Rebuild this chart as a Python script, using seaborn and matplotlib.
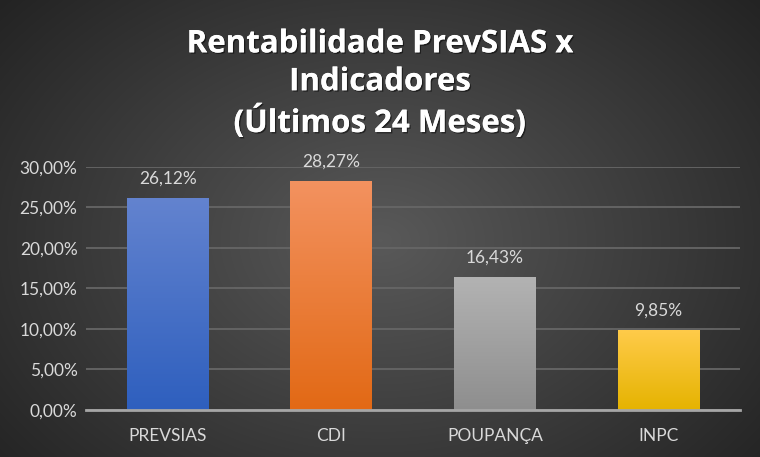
import numpy as np
import pandas as pd
import matplotlib
matplotlib.use("Agg")
import matplotlib.pyplot as plt
import matplotlib.patheffects as pe
import seaborn as sns

# ---------------- DATA ----------------
categories = ["PREVSIAS", "CDI", "POUPANÇA", "INPC"]
values = [26.12, 28.27, 16.43, 9.85]
value_labels = ["26,12%", "28,27%", "16,43%", "9,85%"]
y_ticks = [0, 5, 10, 15, 20, 25, 30]
y_tick_labels = ["0,00%", "5,00%", "10,00%", "15,00%", "20,00%", "25,00%", "30,00%"]
title_lines = ["Rentabilidade PrevSIAS x", "Indicadores", "(Últimos 24 Meses)"]

# gradient (top, bottom) per bar
grad_colors = [("#6383cf", "#2e5fbe"),
               ("#f39260", "#e26915"),
               ("#b3b3b3", "#8e8e8e"),
               ("#ffcb4a", "#e5b300")]

sns.set_theme(style="dark")
plt.rcParams["font.family"] = ["Lato", "DejaVu Sans"]

fig = plt.figure(figsize=(7.6, 4.57), dpi=100)

# ---------------- BACKGROUND (radial gradient) ----------------
bg = fig.add_axes([0, 0, 1, 1], zorder=0)
yy, xx = np.mgrid[0:457, 0:760]
r = np.sqrt(((xx - 380) / 520.0) ** 2 + ((yy - 240) / 380.0) ** 2)
shade = np.clip(0.35 - 0.22 * r, 0.14, 0.35)
bg.imshow(np.dstack([shade, shade, shade]), aspect="auto", extent=[0, 1, 0, 1])
bg.set_axis_off()

# ---------------- BARS ----------------
ax = fig.add_axes([0.113, 0.103, 0.861, 0.532], zorder=1)
ax.patch.set_alpha(0)
df = pd.DataFrame({"cat": categories, "val": values})
sns.barplot(data=df, x="cat", y="val", ax=ax, width=0.5, color="#4472c4",
            edgecolor="none", zorder=3)

for bar, (top, bot) in zip(ax.patches, grad_colors):
    x0, w, h = bar.get_x(), bar.get_width(), bar.get_height()
    cmap = matplotlib.colors.LinearSegmentedColormap.from_list("g", [bot, top])
    grad = np.linspace(0, 1, 256).reshape(-1, 1)
    im = ax.imshow(grad, cmap=cmap, origin="lower", aspect="auto",
                   extent=[x0, x0 + w, 0, h], zorder=3)
    im.set_clip_path(bar)
    bar.set_facecolor("none")

ax.set_ylim(0, 30)
ax.set_xlim(-0.5, 3.5)

for i, (v, lab) in enumerate(zip(values, value_labels)):
    ax.text(i, v + 1.4, lab, ha="center", va="bottom", color="#d9d9d9", fontsize=12.5)

ax.set_yticks(y_ticks)
ax.set_yticklabels(y_tick_labels, color="#d9d9d9", fontsize=12.5)
ax.set_xticks(range(len(categories)))
ax.set_xticklabels(categories, color="#d9d9d9", fontsize=12.5)
ax.tick_params(axis="both", length=0, pad=6)
ax.tick_params(axis="x", pad=13)
ax.set_xlabel("")
ax.set_ylabel("")
ax.grid(axis="y", color="#666666", linewidth=1.3, zorder=0)
ax.grid(axis="x", visible=False)
for s in ["top", "right", "left"]:
    ax.spines[s].set_visible(False)
ax.spines["bottom"].set_color("#a6a6a6")
ax.spines["bottom"].set_linewidth(2)
ax.spines["bottom"].set_zorder(4)

# title, one text per line, slight shadow
shadow = [pe.withSimplePatchShadow(offset=(1, -1), shadow_rgbFace="black", alpha=0.5), pe.Normal()]
for line, ypos in zip(title_lines, [0.903, 0.820, 0.733]):
    fig.text(0.5, ypos, line, ha="center", va="center", color="white",
             fontsize=22.5, fontweight="bold", family=["Open Sans", "DejaVu Sans"],
             path_effects=shadow)

fig.savefig("out.png", dpi=100)
